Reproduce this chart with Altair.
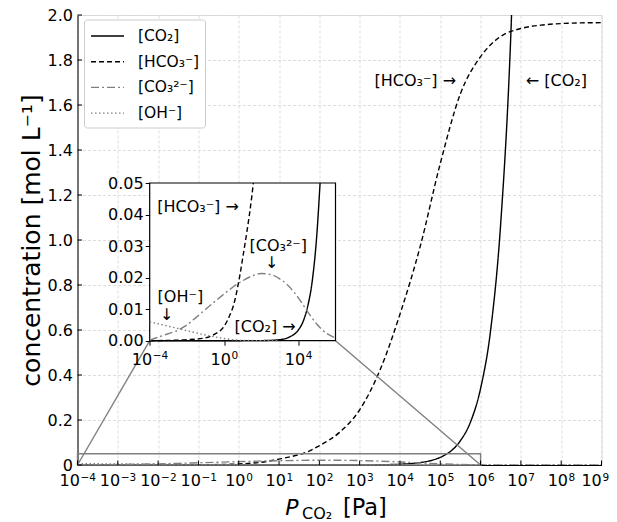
import altair as alt
import pandas as pd

FONT = "DejaVu Sans"

# ---------------- data ----------------
series = ["[CO₂]", "[HCO₃⁻]", "[CO₃²⁻]", "[OH⁻]"]
colors = ["#000000", "#000000", "#808080", "#808080"]
dashes = [[1, 0], [5, 3], [8, 3, 2, 3], [1.5, 2.5]]

co2_logp = [-4, 0, 2, 3, 3.5, 4, 4.25, 4.5, 4.75, 5, 5.17, 5.25, 5.5, 5.75, 6, 6.25, 6.5, 6.75, 7]
co2_conc = [0.0, 0.0000003, 0.000034, 0.00034, 0.0011, 0.0034, 0.006, 0.0108, 0.019, 0.034,
            0.050, 0.060, 0.108, 0.191, 0.34, 0.60, 1.075, 1.91, 3.4]

hco3_logp = [-4, -3, -2, -1, -0.5, 0, 0.32, 0.5, 0.86, 1, 1.5, 1.58, 2, 2.5, 3, 3.5, 4, 4.5,
             5, 5.5, 6, 6.5, 7, 7.5, 8, 8.5, 9]
hco3_conc = [0.0, 0.0001, 0.0003, 0.0009, 0.0021, 0.0045, 0.0082, 0.011, 0.021, 0.026, 0.046,
             0.050, 0.086, 0.145, 0.245, 0.42, 0.67, 0.97, 1.34, 1.65, 1.815, 1.905, 1.94,
             1.955, 1.962, 1.965, 1.966]

co3_logp = [-4, -3.5, -3, -2.5, -2, -1.5, -1, -0.5, 0, 0.5, 1, 1.5, 2, 2.5, 3, 3.5, 4, 4.5,
            5, 5.5, 6, 6.5, 7, 8, 9]
co3_conc = [0.0002, 0.0012, 0.0022, 0.0033, 0.005, 0.0074, 0.0099, 0.0124, 0.0148, 0.0171,
            0.019, 0.0205, 0.0213, 0.021, 0.0196, 0.0172, 0.0136, 0.0092, 0.0052, 0.0024,
            0.0009, 0.0003, 0.0001, 0.0, 0.0]

oh_logp = [-4, -3.5, -3, -2.5, -2, -1.5, -1, -0.5, 0, 0.5, 1, 1.5, 2, 3, 9]
oh_conc = [0.0060, 0.0053, 0.0046, 0.0039, 0.0032, 0.0025, 0.0018, 0.0012, 0.0007, 0.0003,
           0.00012, 0.00005, 0.00002, 0.0, 0.0]

x_ticks_exp = list(range(-4, 10))
x_tick_exp_labels = ["−4", "−3", "−2", "−1", "0", "1", "2", "3", "4", "5", "6", "7", "8", "9"]
y_ticks = [0, 0.2, 0.4, 0.6, 0.8, 1.0, 1.2, 1.4, 1.6, 1.8, 2.0]

inset_x_exp = [-4, 0, 4]
inset_x_exp_labels = ["−4", "0", "4"]
inset_y_ticks = [0, 0.01, 0.02, 0.03, 0.04, 0.05]
inset_domain_x = [1e-4, 1e6]
inset_domain_y = [0.0, 0.05]

# annotations (text, log10 P, concentration)
main_notes = [("[HCO₃⁻] →", 4.38, 1.705), ("← [CO₂]", 7.88, 1.705)]
inset_notes = [("[HCO₃⁻] →", -1.40, 0.0425), ("[CO₃²⁻]", 2.92, 0.0299), ("↓", 2.57, 0.0246),
               ("[OH⁻]", -2.35, 0.0140), ("↓", -3.08, 0.0082), ("[CO₂] →", 2.21, 0.0045)]

# zoom connectors: main-plot corner -> inset corner (log10 P, concentration)
connectors = [(-4, 0.0, -2.208, 0.5524), (6, 0.0, 2.402, 0.5524)]

x_title_parts = ["P", "CO₂", "[Pa]"]
y_title = "concentration [mol L⁻¹]"

# ---------------- tables ----------------
rows = []
for name, lps, vals in [(series[0], co2_logp, co2_conc), (series[1], hco3_logp, hco3_conc),
                        (series[2], co3_logp, co3_conc), (series[3], oh_logp, oh_conc)]:
    for lp, v in zip(lps, vals):
        rows.append({"series": name, "P": 10.0 ** lp, "value": v})
df = pd.DataFrame(rows)

main_notes_df = pd.DataFrame([{"text": t, "P": 10.0 ** lp, "value": v} for t, lp, v in main_notes])
inset_notes_df = pd.DataFrame([{"text": t, "P": 10.0 ** lp, "value": v} for t, lp, v in inset_notes])
conn_df = pd.DataFrame([{"P": 10.0 ** a, "value": b, "P2": 10.0 ** c, "value2": d}
                        for a, b, c, d in connectors])
box_df = pd.DataFrame([{"P": inset_domain_x[0], "P2": inset_domain_x[1],
                        "value": inset_domain_y[0], "value2": inset_domain_y[1]}])


def label_group(exps, last_is_edge):
    out = []
    for i, k in enumerate(exps):
        if last_is_edge and i == len(exps) - 1:
            out.append("edge")
        else:
            out.append("neg" if k < 0 else "pos")
    return out


xt_df = pd.DataFrame({"P": [10.0 ** k for k in x_ticks_exp], "exp": x_tick_exp_labels,
                      "grp": label_group(x_ticks_exp, True)})
ixt_df = pd.DataFrame({"P": [10.0 ** k for k in inset_x_exp], "exp": inset_x_exp_labels,
                       "grp": label_group(inset_x_exp, False)})
yt_df = pd.DataFrame({"value": y_ticks})
one_df = pd.DataFrame({"a": [0]})

W, H = 524, 450
INSET_BOTTOM = 325.7
TICK_FS, EXP_FS = 16, 10.5
# junction between "10" and exponent, relative to the tick
JUNCTION = {"neg": 2.4, "pos": 6.8, "edge": 0.3}

mx = alt.X("P:Q",
           scale=alt.Scale(type="log", domain=[1e-4, 1e9], nice=False),
           axis=alt.Axis(values=[10.0 ** k for k in x_ticks_exp], labels=False,
                         title=None, grid=True, gridColor="#d4d4d4", gridDash=[3, 2],
                         gridWidth=0.8, ticks=False, tickSize=0, domainColor="black"))
my = alt.Y("value:Q",
           scale=alt.Scale(domain=[0, 2], nice=False, zero=False),
           axis=alt.Axis(values=y_ticks,
                         labelExpr="datum.value == 0 ? '0' : format(datum.value, '.1f')",
                         title=y_title, titleFont=FONT, titleFontSize=25,
                         titleFontWeight="normal", titleColor="black", titlePadding=3,
                         grid=True, gridColor="#d4d4d4", gridDash=[3, 2], gridWidth=0.8,
                         ticks=False, tickSize=0, domainColor="black",
                         labelFont=FONT, labelFontSize=TICK_FS, labelColor="black",
                         labelPadding=5, labelFlush=False, labelOverlap=False))

leg = alt.Legend(title=None, orient="none", legendX=6.5, legendY=4.5, fillColor="white",
                 strokeColor="#cccccc", cornerRadius=3, padding=5.5,
                 symbolType="M-0.95,0H2.35", symbolSize=400, symbolStrokeWidth=1.4,
                 symbolFillColor="transparent",
                 labelFont=FONT, labelFontSize=15.5, labelColor="black", labelOffset=26.5,
                 rowPadding=5.7, labelLimit=300)
col = alt.Color("series:N", scale=alt.Scale(domain=series, range=colors), legend=leg)
dash = alt.StrokeDash("series:N", scale=alt.Scale(domain=series, range=dashes), legend=leg)

main_lines = alt.Chart(df).mark_line(clip=True, strokeWidth=1.4, interpolate="monotone").encode(
    x=mx, y=my, color=col, strokeDash=dash)

zoom_box = alt.Chart(box_df).mark_rect(fillOpacity=0, stroke="#808080", strokeWidth=1.4).encode(
    x=mx, x2="P2", y=my, y2="value2")
conn = alt.Chart(conn_df).mark_rule(color="#808080", strokeWidth=1.4).encode(
    x=mx, x2="P2", y=my, y2="value2")

xticks_in = alt.Chart(xt_df).mark_rule(color="black", strokeWidth=1).encode(
    x=mx, y=alt.value(H), y2=alt.value(H - 4.5))
yticks_in = alt.Chart(yt_df).mark_rule(color="black", strokeWidth=1).encode(
    y=my, x=alt.value(0), x2=alt.value(4.5))


def power_labels(tdf, xenc, base_y):
    layers = []
    for grp, j in JUNCTION.items():
        sub = tdf[tdf["grp"] == grp]
        if len(sub) == 0:
            continue
        c = alt.Chart(sub)
        layers.append(c.mark_text(font=FONT, fontSize=TICK_FS, color="black", align="right",
                                  baseline="alphabetic", dx=j).encode(
            x=xenc, y=alt.value(base_y), text=alt.value("10")))
        layers.append(c.mark_text(font=FONT, fontSize=EXP_FS, color="black", align="left",
                                  baseline="alphabetic", dx=j + 0.6).encode(
            x=xenc, y=alt.value(base_y - 5.5), text="exp:N"))
    return layers


main_xlabels = power_labels(xt_df, mx, H + 21)

main_text = alt.Chart(main_notes_df).mark_text(font=FONT, fontSize=16, color="black").encode(
    x=mx, y=my, text="text:N")

t_p = alt.Chart(one_df).mark_text(font=FONT, fontSize=22, fontStyle="italic", color="black",
                                  align="center", baseline="alphabetic").encode(
    x=alt.value(214.5), y=alt.value(500), text=alt.value(x_title_parts[0]))
t_co2 = alt.Chart(one_df).mark_text(font=FONT, fontSize=16, color="black",
                                    align="left", baseline="alphabetic").encode(
    x=alt.value(224.5), y=alt.value(504), text=alt.value(x_title_parts[1]))
t_pa = alt.Chart(one_df).mark_text(font=FONT, fontSize=22.5, color="black",
                                   align="left", baseline="alphabetic").encode(
    x=alt.value(265.5), y=alt.value(500), text=alt.value(x_title_parts[2]))

main = alt.layer(main_lines, zoom_box, conn, xticks_in, yticks_in, main_text,
                 t_p, t_co2, t_pa, *main_xlabels)

# ---------------- inset ----------------
ix = alt.X("P:Q",
           scale=alt.Scale(type="log", domain=inset_domain_x, range=[72.2, 258.0], nice=False),
           axis=alt.Axis(orient="bottom", offset=INSET_BOTTOM - H,
                         values=[10.0 ** k for k in inset_x_exp], labels=False,
                         title=None, grid=False, domain=False,
                         tickSize=4.5, tickColor="black", zindex=1))
iy = alt.Y("value:Q",
           scale=alt.Scale(domain=inset_domain_y, range=[INSET_BOTTOM, 168.0], nice=False,
                           zero=False, clamp=True),
           axis=alt.Axis(orient="left", offset=-72.2, values=inset_y_ticks, format=".2f",
                         title=None, grid=False, domain=False, tickSize=4.5, tickColor="black",
                         labelFont=FONT, labelFontSize=TICK_FS, labelColor="black",
                         labelPadding=2, labelFlush=False, labelOverlap=False, zindex=1))

inset_bg = alt.Chart(box_df).mark_rect(fill="white", stroke="black", strokeWidth=1.2).encode(
    x=ix, x2="P2", y=iy, y2="value2")
inset_lines = alt.Chart(df).transform_filter(
    "datum.P <= 1000001 && datum.value <= 0.0501").mark_line(
    strokeWidth=1.4, interpolate="monotone").encode(x=ix, y=iy, color=col, strokeDash=dash)
inset_text = alt.Chart(inset_notes_df).mark_text(font=FONT, fontSize=16, color="black").encode(
    x=ix, y=iy, text="text:N")
inset_xlabels = power_labels(ixt_df, ix, INSET_BOTTOM + 24)

inset = alt.layer(inset_bg, inset_lines, inset_text, *inset_xlabels)

chart = alt.layer(main, inset).resolve_scale(x="independent", y="independent").properties(
    width=W, height=H,
    padding={"left": 69.5, "top": 7, "right": 7.5, "bottom": 57},
    autosize=alt.AutoSizeParams(type="none"),
).configure_view(stroke="black", strokeWidth=1.2).configure(background="white")

chart.save("out.html", embed_options={"renderer": "svg", "actions": False})
